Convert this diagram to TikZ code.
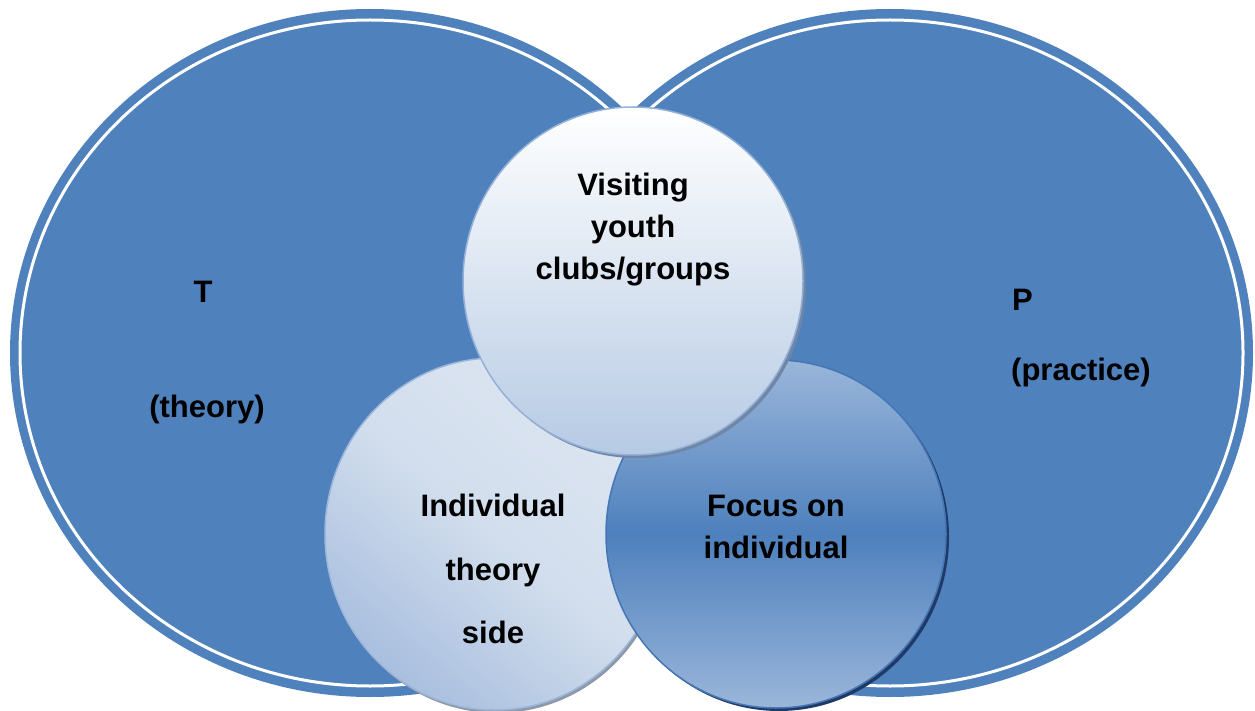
\documentclass[tikz,border=0pt]{standalone}
\usepackage{fontspec}
\setmainfont{Liberation Sans}
\usetikzlibrary{shapes.geometric}
\definecolor{bigblue}{HTML}{4F81BD}
\definecolor{topbot}{HTML}{B6CAE4}
\definecolor{topedge}{HTML}{93B1D7}
\definecolor{topshadow}{HTML}{6F86A6}
\definecolor{leftlight}{HTML}{DDE6F2}
\definecolor{leftmid}{HTML}{D2DEED}
\definecolor{leftdark}{HTML}{A9BFDF}
\definecolor{leftedge}{HTML}{9DB7DA}
\definecolor{leftshadow}{HTML}{8D98A8}
\definecolor{rightlight}{HTML}{9AB6DA}
\definecolor{rightmid}{HTML}{4E80BD}
\definecolor{rightedge}{HTML}{4576B5}
\definecolor{rightshadow}{HTML}{1F3A66}
\begin{document}
\begin{tikzpicture}[x=1pt,y=-1pt,
  bigell/.style={ellipse, fill=bigblue, inner sep=0pt, outer sep=0pt},
  ring/.style={ellipse, draw=white, line width=3pt, inner sep=0pt, outer sep=0pt},
  small/.style={ellipse, inner sep=0pt, outer sep=0pt, minimum width=340pt},
  lbl/.style={font=\fontsize{31}{42}\selectfont\bfseries, align=center, inner sep=0pt}]
\useasboundingbox (0,0) rectangle (1255,711);
% big ellipses
\node[bigell, minimum width=720pt, minimum height=688pt] (T) at (370,353) {};
\node[ring, minimum width=700pt, minimum height=666pt] (Tring) at (T.center) {};
\node[bigell, minimum width=726pt, minimum height=688pt] (P) at (890,353) {};
\node[ring, minimum width=706pt, minimum height=666pt] (Pring) at (P.center) {};
% left small circle
\node[small, minimum height=352pt, fill=leftshadow] (Is) at (497,537) {};
\node[small, minimum height=352pt, draw=leftedge, line width=1.5pt,
      shading=axis, top color=leftlight, bottom color=leftdark, middle color=leftmid,
      shading angle=-40] (I) at (495,534) {};
% right small circle
\node[small, minimum height=348pt, fill=rightshadow] (Fs) at (779,537) {};
\node[small, minimum height=348pt, draw=rightedge, line width=1.5pt,
      top color=rightlight, bottom color=rightlight, middle color=rightmid] (F) at (776,534) {};
% top small circle
\node[small, minimum height=348pt, fill=topshadow] (Vs) at (636,284) {};
\node[small, minimum height=348pt, draw=topedge, line width=1.5pt,
      top color=white, bottom color=topbot] (V) at (633,281) {};
% texts
\node[lbl, anchor=base] (tT) at (203,302) {T};
\node[lbl, anchor=base] (tTheory) at (207,417) {(theory)};
\node[lbl, anchor=base west] (tP) at (1012,310) {P};
\node[lbl, anchor=base west] (tPractice) at (1011,380) {(practice)};
\node[lbl] (tV) at (633,230) {Visiting\\youth\\clubs/groups};
\node[lbl, font=\fontsize{31}{63.5}\selectfont\bfseries] (tI) at (493,569) {Individual\\theory\\side};
\node[lbl] (tF) at (776,527) {Focus on\\individual};
\end{tikzpicture}
\end{document}
